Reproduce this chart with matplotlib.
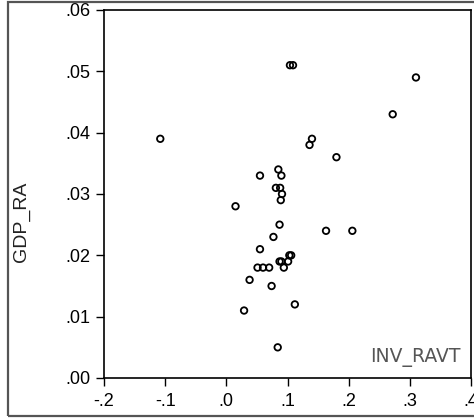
import matplotlib
matplotlib.use("Agg")
import matplotlib.pyplot as plt
from matplotlib.patches import Rectangle

# Investment ratio vs GDP growth ratio
inv_ravt = [-0.108, 0.104, 0.109, 0.310, 0.272, 0.140, 0.136, 0.180,
            0.055, 0.085, 0.090, 0.081, 0.088, 0.091, 0.089, 0.015,
            0.087, 0.077, 0.055, 0.163, 0.206, 0.051, 0.060, 0.070,
            0.087, 0.090, 0.094, 0.101, 0.103, 0.106, 0.038, 0.074,
            0.112, 0.029, 0.084]
gdp_ra = [0.039, 0.051, 0.051, 0.049, 0.043, 0.039, 0.038, 0.036,
          0.033, 0.034, 0.033, 0.031, 0.031, 0.030, 0.029, 0.028,
          0.025, 0.023, 0.021, 0.024, 0.024, 0.018, 0.018, 0.018,
          0.019, 0.019, 0.018, 0.019, 0.020, 0.020, 0.016, 0.015,
          0.012, 0.011, 0.005]

x_ticks = [-0.2, -0.1, 0.0, 0.1, 0.2, 0.3, 0.4]
x_tick_labels = ["-.2", "-.1", ".0", ".1", ".2", ".3", ".4"]
y_ticks = [0.00, 0.01, 0.02, 0.03, 0.04, 0.05, 0.06]
y_tick_labels = [".00", ".01", ".02", ".03", ".04", ".05", ".06"]

W, H = 474, 418
fig = plt.figure(figsize=(W / 100, H / 100), dpi=100)
fig.patch.set_facecolor("white")

# outer frame of the graph window
fig.patches.append(Rectangle((8 / W, 2 / H), 1.0, (416 - 2) / H,
                             transform=fig.transFigure, fill=False,
                             edgecolor="#555555", linewidth=1.6, zorder=0))

ax = fig.add_axes([104 / W, (H - 378) / H, 367 / W, 368 / H])
ax.scatter(inv_ravt, gdp_ra, s=22, facecolors="none", edgecolors="black",
           linewidths=1.3, zorder=3, clip_on=False)

ax.set_xlim(-0.2, 0.4)
ax.set_ylim(0.0, 0.06)
ax.set_xticks(x_ticks)
ax.set_xticklabels(x_tick_labels)
ax.set_yticks(y_ticks)
ax.set_yticklabels(y_tick_labels)

for sp in ax.spines.values():
    sp.set_linewidth(1.2)
    sp.set_color("black")

ax.tick_params(axis="both", direction="out", length=6, width=1.0,
               labelsize=13, colors="black")
ax.tick_params(axis="y", pad=4)
ax.tick_params(axis="x", pad=5)
for lab in ax.get_xticklabels() + ax.get_yticklabels():
    lab.set_fontfamily("Liberation Sans")

fig.text(21 / W, 1 - 222 / H, "GDP_RA", rotation=90, ha="center", va="center",
         fontsize=14, family="Liberation Sans", color="#222222")
fig.text(461 / W, 1 - 362 / H, "INV_RAVT", ha="right", va="baseline",
         fontsize=13.5, family="DejaVu Sans", color="#555555")

fig.savefig("out.png", dpi=100, facecolor="white")
